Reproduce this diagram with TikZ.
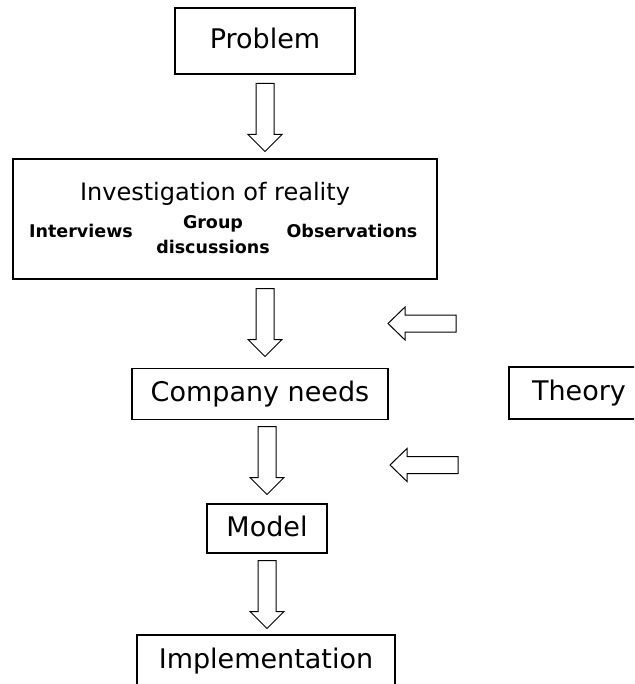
\documentclass[tikz,border=0pt]{standalone}
\usepackage{fontspec}
\setmainfont{DejaVu Sans}
\usepackage{tikz}

\begin{document}
\begin{tikzpicture}[x=1pt, y=-1pt,
  box/.style={rectangle, draw=black, line width=1.2pt, font=\fontsize{27}{32}\selectfont,
    text height=21pt, text depth=6pt, text centered},
  sub/.style={font=\fontsize{17.5}{25}\selectfont\bfseries, align=center},
  downarrow/.pic={\draw[line width=1pt, line join=miter]
    (-9,-34) -- (9,-34) -- (9,17) -- (17,17) -- (0,34) -- (-17,17) -- (-9,17) -- cycle;},
  leftarrow/.pic={\draw[line width=1pt, line join=miter]
    (34,-8.5) -- (-17,-8.5) -- (-17,-16.5) -- (-34,0) -- (-17,16.5) -- (-17,8.5) -- (34,8.5) -- cycle;}
]
\clip (0,0) rectangle (634,684);

\node[box, minimum width=180pt, minimum height=66pt] (problem) at (265,41) {Problem};

\node[box, minimum width=424pt, minimum height=120pt] (invest) at (225,219) {};
\node[font=\fontsize{24}{28}\selectfont, anchor=base] (reality) at (215,201) {Investigation of reality};
\node[sub, anchor=base] (interviews) at (81,237) {Interviews};
\node[sub] (groups) at (213,235) {Group\\discussions};
\node[sub, anchor=base] (observ) at (352,237) {Observations};

\node[box, minimum width=256pt, minimum height=51pt] (needs) at (260,394) {Company needs};
\node[box, minimum width=140pt, minimum height=52pt] (theory) at (579,393) {Theory};
\node[box, minimum width=120pt, minimum height=49pt] (model) at (267,528.5) {Model};
\node[box, minimum width=258pt, minimum height=52pt] (impl) at (266,661) {Implementation};

% block arrows
\pic (a1) at (265,117.5) {downarrow};
\pic (a2) at (265,322.5) {downarrow};
\pic (a3) at (267,460.5) {downarrow};
\pic (a4) at (267,594.5) {downarrow};
\pic (t1) at (422,323.5) {leftarrow};
\pic (t2) at (424,465) {leftarrow};
\end{tikzpicture}
\end{document}
